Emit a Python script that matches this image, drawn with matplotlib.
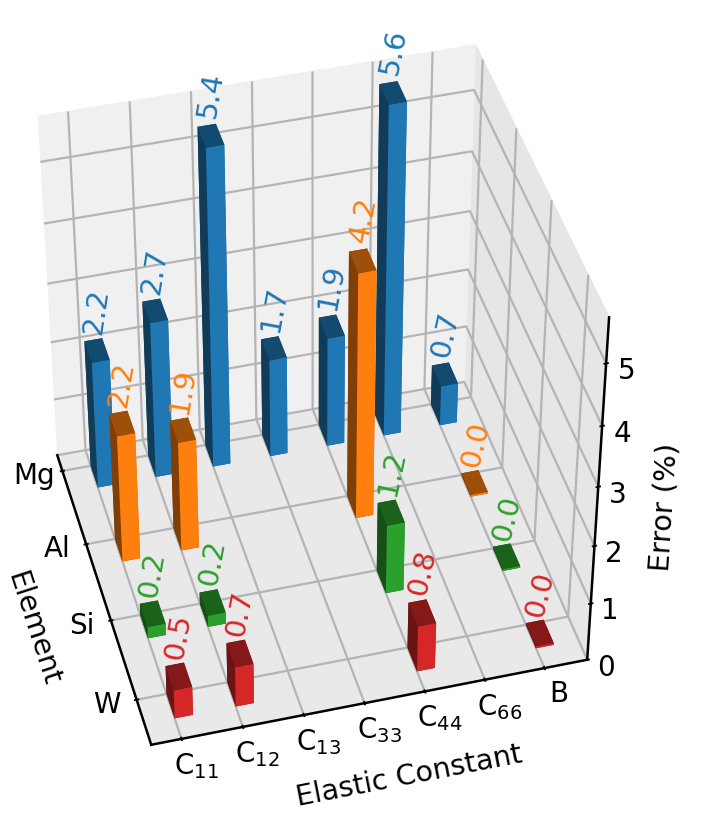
import numpy as np
import matplotlib
matplotlib.use('Agg')
import matplotlib.pyplot as plt
from matplotlib.transforms import Affine2D
from mpl_toolkits.mplot3d import Axes3D

constants = ['C$_{11}$', 'C$_{12}$', 'C$_{13}$', 'C$_{33}$', 'C$_{44}$', 'C$_{66}$', 'B']
elements = ['Mg', 'Al', 'Si', 'W']
base_colors = [(0.122, 0.467, 0.706), (1.0, 0.498, 0.055), (0.173, 0.627, 0.173), (0.839, 0.153, 0.157)]
text_colors = ['tab:blue', 'tab:orange', 'tab:green', 'tab:red']
const_idx = {
    'Mg': [0, 1, 2, 3, 4, 5, 6],
    'Al': [0, 1, 4, 6],
    'Si': [0, 1, 4, 6],
    'W': [0, 1, 4, 6],
}
errors = {
    'Mg': [2.2, 2.7, 5.4, 1.7, 1.9, 5.6, 0.7],
    'Al': [2.2, 1.9, 4.2, 0.0],
    'Si': [0.2, 0.2, 1.2, 0.0],
    'W': [0.5, 0.7, 0.8, 0.0],
}
face_brightness = [0.5, 0.62, 0.5, 1.0, 0.5, 0.8]  # -z +z -y +y -x +x

fig = plt.figure(figsize=(7.06, 8.38), dpi=100)
ax = fig.add_axes([-0.103, 0.0715, 1.07, 0.90], projection='3d')
ax.view_init(elev=42, azim=-105)
ax.set_box_aspect((4, 3.85, 4.05))
w = 0.3
d = 0.3
for j, el in enumerate(elements):
    fc = [tuple(c * b for c in base_colors[j]) for b in face_brightness]
    for i, v in zip(const_idx[el], errors[el]):
        ax.bar3d(i, j, 0, w, d, max(v, 0.03), color=fc, shade=False)
        ax.text(i + w/2, j + d/2, v + 0.25, f'{v:.1f}', (0.2, 0, 1), color=text_colors[j], fontsize=21,
                ha='center', va='bottom', zorder=100)
ax.set_xlim(-0.49, 6.72)
ax.set_ylim(3.55, -0.22)
ax.set_zlim(0, 5.72)
ax.set_xticks(range(7))
ax.set_xticklabels(constants, fontsize=20)
ax.set_yticks(range(4))
ax.set_yticklabels(elements, fontsize=20)
ax.set_zticks(range(6))
ax.set_zticklabels(range(6), fontsize=20)
ax.zaxis.set_ticks_position('upper')
ax.zaxis.set_label_position('upper')
ax.set_xlabel('Elastic Constant', fontsize=20.5, labelpad=20)
ax.set_ylabel('Element', fontsize=20.5, labelpad=20)
ax.set_zlabel('Error (%)', fontsize=20.5, labelpad=14)
pane_grey = [0.90, 0.94, 0.915]
for axis, g in zip((ax.xaxis, ax.yaxis, ax.zaxis), pane_grey):
    axis.set_pane_color((g, g, g, 1.0))
    axis.line.set_linewidth(1.8)
    axis.line.set_color('black')
    axis._axinfo['grid'].update(color='#b4b4b4', linewidth=1.6)
    axis._axinfo['tick'].update(linewidth={True: 1.3, False: 1.0}, inward_factor=0.05, outward_factor=0.05)

def pin_shift(text, shift):
    shifted = ax.transData + Affine2D().translate(*shift)
    text.get_transform = lambda: shifted

def nudge(axis, tick_shift, label_shift):
    for tick in axis.get_major_ticks():
        pin_shift(tick.label1, tick_shift)
    pin_shift(axis.label, label_shift)

nudge(ax.xaxis, (10, 13), (21, 16))
nudge(ax.yaxis, (-12, 25), (-10, 23))
nudge(ax.zaxis, (-4, 15), (-6, 15))
fig.savefig('out.png', dpi=100)
